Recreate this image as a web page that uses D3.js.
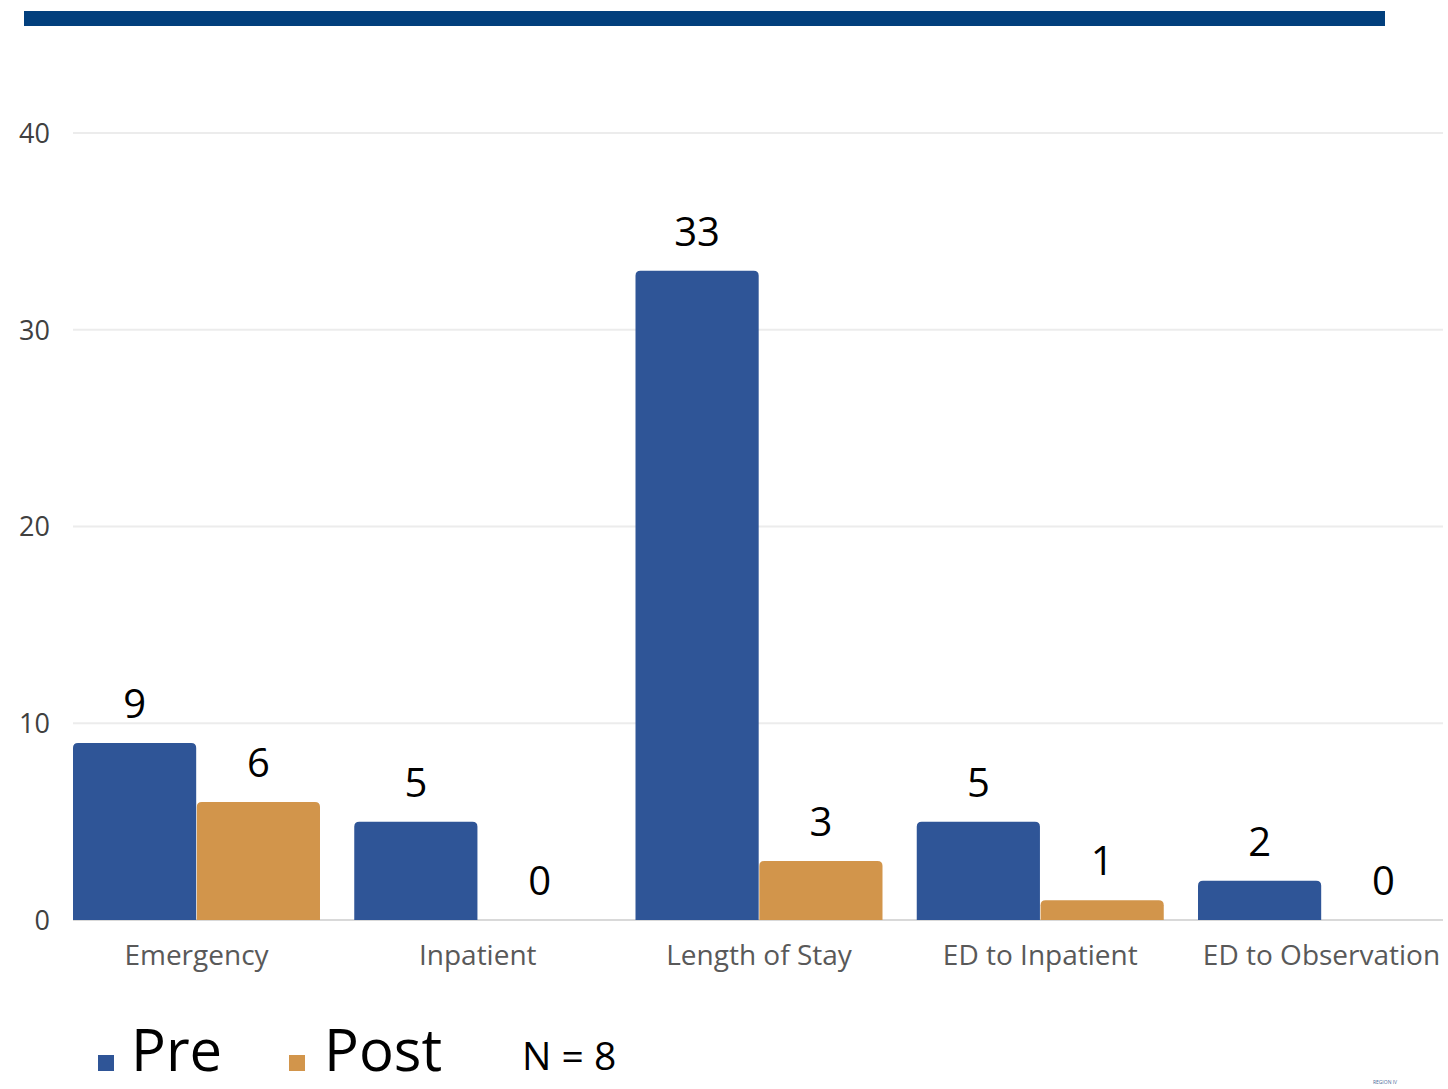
<!DOCTYPE html>
<html>
<head>
<meta charset="utf-8">
<script src="https://cdn.jsdelivr.net/npm/d3@7"></script>
<style>
  html, body { margin: 0; padding: 0; background: #fff; }
  svg { display: block; }
</style>
</head>
<body>
<svg id="chart" width="1448" height="1089"></svg>
<script>
// Pre/post comparison by utilisation measure
const categories = ["Emergency", "Inpatient", "Length of Stay", "ED to Inpatient", "ED to Observation"];
const seriesNames = ["Pre", "Post"];
const preValues = [9, 5, 33, 5, 2];
const postValues = [6, 0, 3, 1, 0];
const yTicks = [0, 10, 20, 30, 40];
const sampleNote = "N = 8";

const colors = { Pre: "#2f5597", Post: "#d2954b" };
const FONT = "'Open Sans', 'Noto Sans', sans-serif";

const svg = d3.select("#chart");

// header rule
svg.append("rect")
  .attr("x", 24).attr("y", 11).attr("width", 1361).attr("height", 15)
  .attr("fill", "#023f7d");

const x0 = d3.scaleBand().domain(categories).range([73, 1445]).paddingInner(0.1218).paddingOuter(0);
const x1 = d3.scaleBand().domain(seriesNames).range([0, x0.bandwidth()]).paddingInner(0.005);
const y = d3.scaleLinear().domain([0, 40]).range([920, 133]);

// gridlines
svg.append("g")
  .selectAll("line")
  .data(yTicks)
  .join("line")
  .attr("x1", 73).attr("x2", 1443)
  .attr("y1", d => y(d)).attr("y2", d => y(d))
  .attr("stroke", d => d === 0 ? "#d9d9d9" : "#ececec")
  .attr("stroke-width", 2);

// y axis labels
const yAxis = d3.axisLeft(y).tickValues(yTicks).tickSize(0).tickPadding(0);
const yg = svg.append("g").attr("transform", "translate(50,0)").call(yAxis);
yg.select(".domain").remove();
yg.selectAll("text")
  .attr("font-family", FONT).attr("font-size", 27).attr("fill", "#404040")
  .attr("dy", "0.35em");

// x axis labels
const xAxis = d3.axisBottom(x0).tickSize(0).tickPadding(0);
const xg = svg.append("g").attr("transform", "translate(0,965)").call(xAxis);
xg.select(".domain").remove();
xg.selectAll("text")
  .attr("font-family", FONT).attr("font-size", 28).attr("fill", "#595959")
  .attr("dy", 0);

const rows = categories.map((c, i) => ({
  category: c,
  values: [{ key: "Pre", value: preValues[i] }, { key: "Post", value: postValues[i] }]
}));

// bar with rounded top corners
function topRounded(x, yTop, w, h, r) {
  if (h <= 0) return "";
  r = Math.min(r, h, w / 2);
  return `M${x},${yTop + h}V${yTop + r}Q${x},${yTop} ${x + r},${yTop}` +
         `H${x + w - r}Q${x + w},${yTop} ${x + w},${yTop + r}V${yTop + h}Z`;
}

const groups = svg.append("g")
  .selectAll("g")
  .data(rows)
  .join("g")
  .attr("transform", d => `translate(${x0(d.category)},0)`);

groups.selectAll("path")
  .data(d => d.values)
  .join("path")
  .attr("d", d => topRounded(x1(d.key), y(d.value), x1.bandwidth(), y(0) - y(d.value), 5))
  .attr("fill", d => colors[d.key]);

groups.selectAll("text")
  .data(d => d.values)
  .join("text")
  .attr("x", d => x1(d.key) + x1.bandwidth() / 2)
  .attr("y", d => y(d.value) - 25)
  .attr("text-anchor", "middle")
  .attr("font-family", FONT).attr("font-size", 40).attr("fill", "#000")
  .text(d => d.value);

// legend
const legend = svg.append("g");
const legendItems = [
  { key: "Pre", sx: 98, tx: 131 },
  { key: "Post", sx: 289, tx: 324 }
];
legend.selectAll("rect")
  .data(legendItems)
  .join("rect")
  .attr("x", d => d.sx).attr("y", 1055).attr("width", 16).attr("height", 16)
  .attr("fill", d => colors[d.key]);
legend.selectAll("text.lg")
  .data(legendItems)
  .join("text")
  .attr("class", "lg")
  .attr("x", d => d.tx).attr("y", 1071)
  .attr("font-family", FONT).attr("font-size", 58).attr("fill", "#000")
  .text(d => d.key);

svg.append("text")
  .attr("x", 522).attr("y", 1070)
  .attr("font-family", FONT).attr("font-size", 39).attr("fill", "#000")
  .text(sampleNote);

svg.append("text")
  .attr("x", 1385).attr("y", 1084)
  .attr("text-anchor", "middle")
  .attr("font-family", FONT).attr("font-size", 5).attr("fill", "#4a6a9a")
  .text("REGION IV");
</script>
</body>
</html>
